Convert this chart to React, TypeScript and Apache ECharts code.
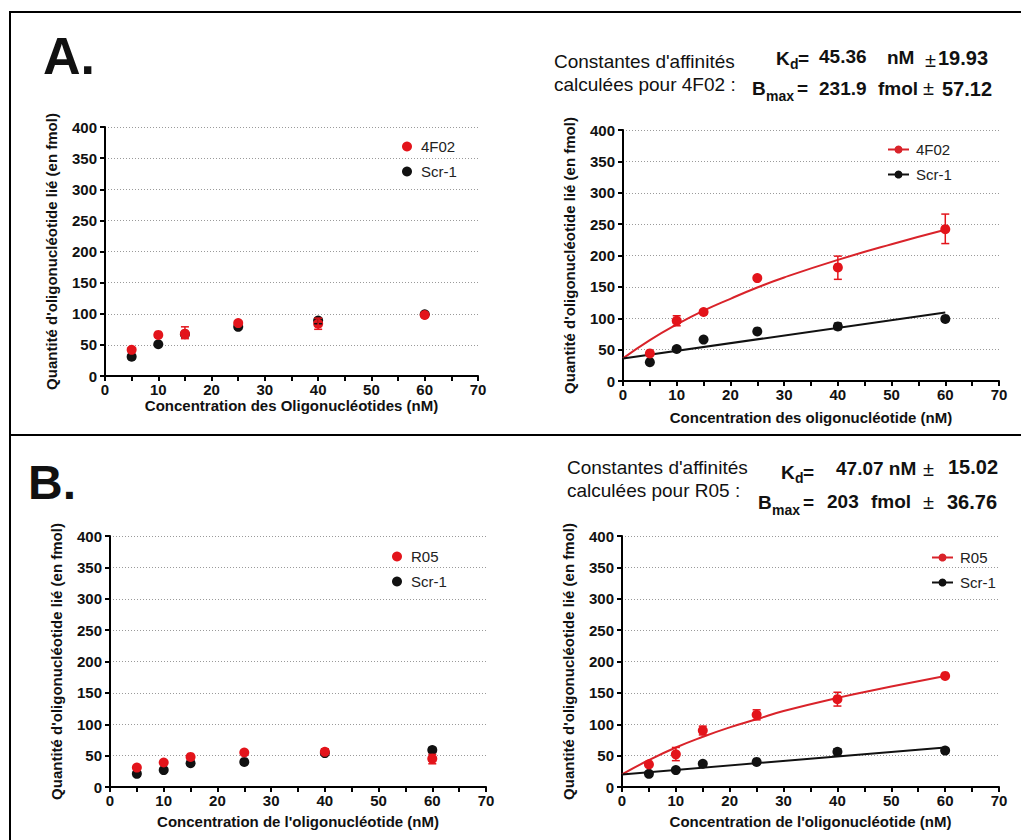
import React, { useEffect, useRef } from 'react';
import * as echarts from 'echarts';

const FONT = '"Liberation Sans", Arial, Helvetica, sans-serif';
const RED = '#e3141b';
const RED_LINE = '#d9232a';
const BLACK = '#111111';

// Concentrations (nM)
const conc = [5, 10, 15, 25, 40, 60];
const fitX = [0, 5, 10, 15, 20, 25, 30, 40, 50, 60];
const lineX = [0, 60];

// Panel A, left (4F02 vs Scr-1)
const a1_4F02 = [42, 66, 68, 85, 84, 98];
const a1_scr = [31, 51, 67, 79, 89, 99];
const a1_err4F02 = [[15, 60, 79], [40, 75, 93]];
const a1_errScr = [[40, 84, 93]];

// Panel A, right (4F02 vs Scr-1 with fits)
const a2_4F02 = [44, 96, 110, 164, 181, 242];
const a2_scr = [30, 51, 66, 79, 87, 99];
const a2_err4F02 = [[10, 88, 104], [40, 162, 199], [60, 219, 266]];
const a2_errScr = [[40, 82, 92]];
const a2_fit4F02 = [36, 65, 90, 112, 131, 149, 165, 193, 218, 241];
const a2_fitScr = [36, 109];

// Panel B, left (R05 vs Scr-1)
const b1_R05 = [31, 39, 48, 55, 56, 45];
const b1_scr = [21, 27, 38, 40, 54, 59];
const b1_errR05 = [[40, 52, 61], [60, 37, 52]];
const b1_errScr = [[60, 55, 63]];

// Panel B, right (R05 vs Scr-1 with fits)
const b2_R05 = [36, 52, 90, 115, 140, 177];
const b2_scr = [21, 27, 37, 40, 56, 58];
const b2_errR05 = [[10, 42, 63], [15, 83, 97], [25, 107, 123], [40, 129, 151]];
const b2_errScr = [[40, 50, 61], [60, 54, 62]];
const b2_fitR05 = [20, 43, 63, 80, 95, 108, 121, 142, 160, 177];
const b2_fitScr = [20, 63];

const yName = "Quantité d'oligonucléotide lié (en fmol)";
const xNames = [
  'Concentration des Oligonucléotides (nM)',
  'Concentration des oligonucléotide (nM)',
  "Concentration de l'oligonucléotide (nM)",
  "Concentration de l'oligonucléotide (nM)",
];

const grids = [
  { left: 105, top: 127, width: 373, height: 249 },
  { left: 623, top: 130, width: 376, height: 251 },
  { left: 110, top: 536, width: 376, height: 251 },
  { left: 622, top: 536, width: 377, height: 251 },
];
const xNameGaps = [22, 29, 27, 27];

const pairs = (xs: number[], ys: number[]) => xs.map((x, i) => [x, ys[i]]);

function xAxis(i: number) {
  return {
    gridIndex: i, type: 'value', min: 0, max: 70, interval: 5,
    name: xNames[i], nameLocation: 'middle', nameGap: xNameGaps[i],
    nameTextStyle: { fontWeight: 'bold', fontSize: 15, color: BLACK, fontFamily: FONT },
    axisLine: { show: true, onZero: false, lineStyle: { color: '#000', width: 2 } },
    axisTick: { show: true, inside: false, length: 5, lineStyle: { color: '#000', width: 2 } },
    axisLabel: {
      fontWeight: 'bold', fontSize: 15, color: BLACK, fontFamily: FONT, margin: 6,
      formatter: (v: number) => (v % 10 === 0 ? String(v) : ''),
    },
    splitLine: { show: false },
  };
}

function yAxis(i: number) {
  return {
    gridIndex: i, type: 'value', min: 0, max: 400, interval: 50,
    name: yName, nameLocation: 'middle', nameGap: 46, nameRotate: 90,
    nameTextStyle: { fontWeight: 'bold', fontSize: 15, color: BLACK, fontFamily: FONT },
    axisLine: { show: true, onZero: false, lineStyle: { color: '#000', width: 2 } },
    axisTick: { show: true, inside: false, length: 5, lineStyle: { color: '#000', width: 2 } },
    axisLabel: { fontWeight: 'bold', fontSize: 15, color: BLACK, fontFamily: FONT, margin: 8 },
    splitLine: { show: true, lineStyle: { color: '#9a9a9a', type: [1, 2], width: 1 } },
  };
}

function scatter(i: number, name: string, ys: number[], color: string) {
  return {
    type: 'scatter', name, xAxisIndex: i, yAxisIndex: i, data: pairs(conc, ys),
    symbol: 'circle', symbolSize: 10, itemStyle: { color, opacity: 1 }, z: 4,
  };
}

function fitLine(i: number, name: string, xs: number[], ys: number[], color: string, smooth: boolean) {
  return {
    type: 'line', name, xAxisIndex: i, yAxisIndex: i, data: pairs(xs, ys),
    smooth, showSymbol: false, symbol: 'circle', symbolSize: 9,
    itemStyle: { color }, lineStyle: { color, width: 2 }, z: 3, silent: true,
  };
}

function errorBars(i: number, data: number[][], color: string) {
  return {
    type: 'custom', xAxisIndex: i, yAxisIndex: i, data, silent: true, z: 5,
    encode: { x: 0, y: [1, 2] },
    renderItem: (_params: any, api: any) => {
      const lo = api.coord([api.value(0), api.value(1)]);
      const hi = api.coord([api.value(0), api.value(2)]);
      const w = 4;
      const st = () => ({ stroke: color, lineWidth: 1.5 });
      return {
        type: 'group',
        children: [
          { type: 'line', shape: { x1: lo[0], y1: lo[1], x2: hi[0], y2: hi[1] }, style: st() },
          { type: 'line', shape: { x1: lo[0] - w, y1: lo[1], x2: lo[0] + w, y2: lo[1] }, style: st() },
          { type: 'line', shape: { x1: hi[0] - w, y1: hi[1], x2: hi[0] + w, y2: hi[1] }, style: st() },
        ],
      };
    },
  };
}

function legend(names: string[], left: number, top: number, lineIcon: boolean) {
  return {
    data: names, left, top, orient: 'vertical',
    itemWidth: lineIcon ? 21 : 10, itemHeight: 10, itemGap: 10,
    formatter: (n: string) => n.split('|')[1],
    selectedMode: false,
    textStyle: { fontSize: 15, color: '#222', fontFamily: FONT, padding: [0, 0, 0, lineIcon ? 2 : 4] },
  };
}

type T = { t: string; x: number; y: number; s: number; b?: boolean };
function texts(list: T[]) {
  return list.map((o) => ({
    type: 'text', x: o.x, y: o.y, silent: true,
    style: {
      text: o.t, fontSize: o.s, fontWeight: o.b ? 'bold' : 'normal', fontFamily: FONT,
      fill: BLACK, align: 'left', verticalAlign: 'middle',
    },
  }));
}

const frameLine = (x1: number, y1: number, x2: number, y2: number) => ({
  type: 'line', silent: true, shape: { x1, y1, x2, y2 }, style: { stroke: '#000', lineWidth: 2 },
});

export default function App() {
  const ref = useRef<HTMLDivElement>(null);
  useEffect(() => {
    if (!ref.current) return;
    const chart = echarts.init(ref.current, null, { renderer: 'svg' });
    const option: any = {
      animation: false,
      backgroundColor: '#ffffff',
      grid: grids.map((g) => ({ ...g, containLabel: false })),
      xAxis: [0, 1, 2, 3].map(xAxis),
      yAxis: [0, 1, 2, 3].map(yAxis),
      legend: [
        legend(['A1|4F02', 'A1|Scr-1'], 397, 134, false),
        legend(['A2|4F02', 'A2|Scr-1'], 882, 137, true),
        legend(['B1|R05', 'B1|Scr-1'], 387, 544, false),
        legend(['B2|R05', 'B2|Scr-1'], 926, 545, true),
      ],
      series: [
        // A left
        scatter(0, 'A1|Scr-1', a1_scr, BLACK),
        errorBars(0, a1_errScr, BLACK),
        scatter(0, 'A1|4F02', a1_4F02, RED),
        errorBars(0, a1_err4F02, RED),
        // A right
        fitLine(1, 'A2|4F02', fitX, a2_fit4F02, RED_LINE, true),
        fitLine(1, 'A2|Scr-1', lineX, a2_fitScr, BLACK, false),
        scatter(1, 'A2s|Scr-1', a2_scr, BLACK),
        errorBars(1, a2_errScr, BLACK),
        scatter(1, 'A2s|4F02', a2_4F02, RED),
        errorBars(1, a2_err4F02, RED),
        // B left
        scatter(2, 'B1|Scr-1', b1_scr, BLACK),
        errorBars(2, b1_errScr, BLACK),
        scatter(2, 'B1|R05', b1_R05, RED),
        errorBars(2, b1_errR05, RED),
        // B right
        fitLine(3, 'B2|R05', fitX, b2_fitR05, RED_LINE, true),
        fitLine(3, 'B2|Scr-1', lineX, b2_fitScr, BLACK, false),
        scatter(3, 'B2s|Scr-1', b2_scr, BLACK),
        errorBars(3, b2_errScr, BLACK),
        scatter(3, 'B2s|R05', b2_R05, RED),
        errorBars(3, b2_errR05, RED),
      ],
      graphic: [
        frameLine(9, 12, 1021, 12),
        frameLine(10, 12, 10, 840),
        frameLine(10, 435, 1021, 435),
        ...texts([
          { t: 'A.', x: 43, y: 56, s: 52, b: true },
          { t: 'B.', x: 28, y: 482, s: 48, b: true },
          // A annotation
          { t: "Constantes d'affinités", x: 554, y: 61, s: 19 },
          { t: 'calculées pour 4F02 :', x: 554, y: 84, s: 19 },
          { t: 'K', x: 776, y: 58, s: 19, b: true },
          { t: 'd', x: 790, y: 64, s: 14, b: true },
          { t: '=', x: 798, y: 58, s: 19, b: true },
          { t: '45.36', x: 819, y: 56, s: 19, b: true },
          { t: 'nM', x: 887, y: 57, s: 19, b: true },
          { t: '±', x: 925, y: 60, s: 20 },
          { t: '19.93', x: 938, y: 58, s: 20, b: true },
          { t: 'B', x: 752, y: 88, s: 19, b: true },
          { t: 'max', x: 766, y: 96, s: 14, b: true },
          { t: '=', x: 797, y: 88, s: 19, b: true },
          { t: '231.9', x: 819, y: 88, s: 19, b: true },
          { t: 'fmol', x: 878, y: 88, s: 19, b: true },
          { t: '±', x: 923, y: 88, s: 20 },
          { t: '57.12', x: 942, y: 89, s: 20, b: true },
          // B annotation
          { t: "Constantes d'affinités", x: 567, y: 467, s: 19 },
          { t: 'calculées pour R05 :', x: 567, y: 490, s: 19 },
          { t: 'K', x: 781, y: 472, s: 19, b: true },
          { t: 'd', x: 795, y: 478, s: 14, b: true },
          { t: '=', x: 803, y: 472, s: 19, b: true },
          { t: '47.07 nM', x: 836, y: 468, s: 19, b: true },
          { t: '±', x: 923, y: 469, s: 20 },
          { t: '15.02', x: 948, y: 467, s: 20, b: true },
          { t: 'B', x: 758, y: 502, s: 19, b: true },
          { t: 'max', x: 772, y: 510, s: 14, b: true },
          { t: '=', x: 803, y: 502, s: 19, b: true },
          { t: '203', x: 827, y: 501, s: 19, b: true },
          { t: 'fmol', x: 871, y: 501, s: 19, b: true },
          { t: '±', x: 923, y: 502, s: 20 },
          { t: '36.76', x: 947, y: 502, s: 20, b: true },
        ]),
      ],
    };
    chart.setOption(option);
    return () => chart.dispose();
  }, []);
  return (
    <div
      ref={ref}
      style={{ position: 'fixed', left: 0, top: 0, width: 1021, height: 840, background: '#fff' }}
    />
  );
}
